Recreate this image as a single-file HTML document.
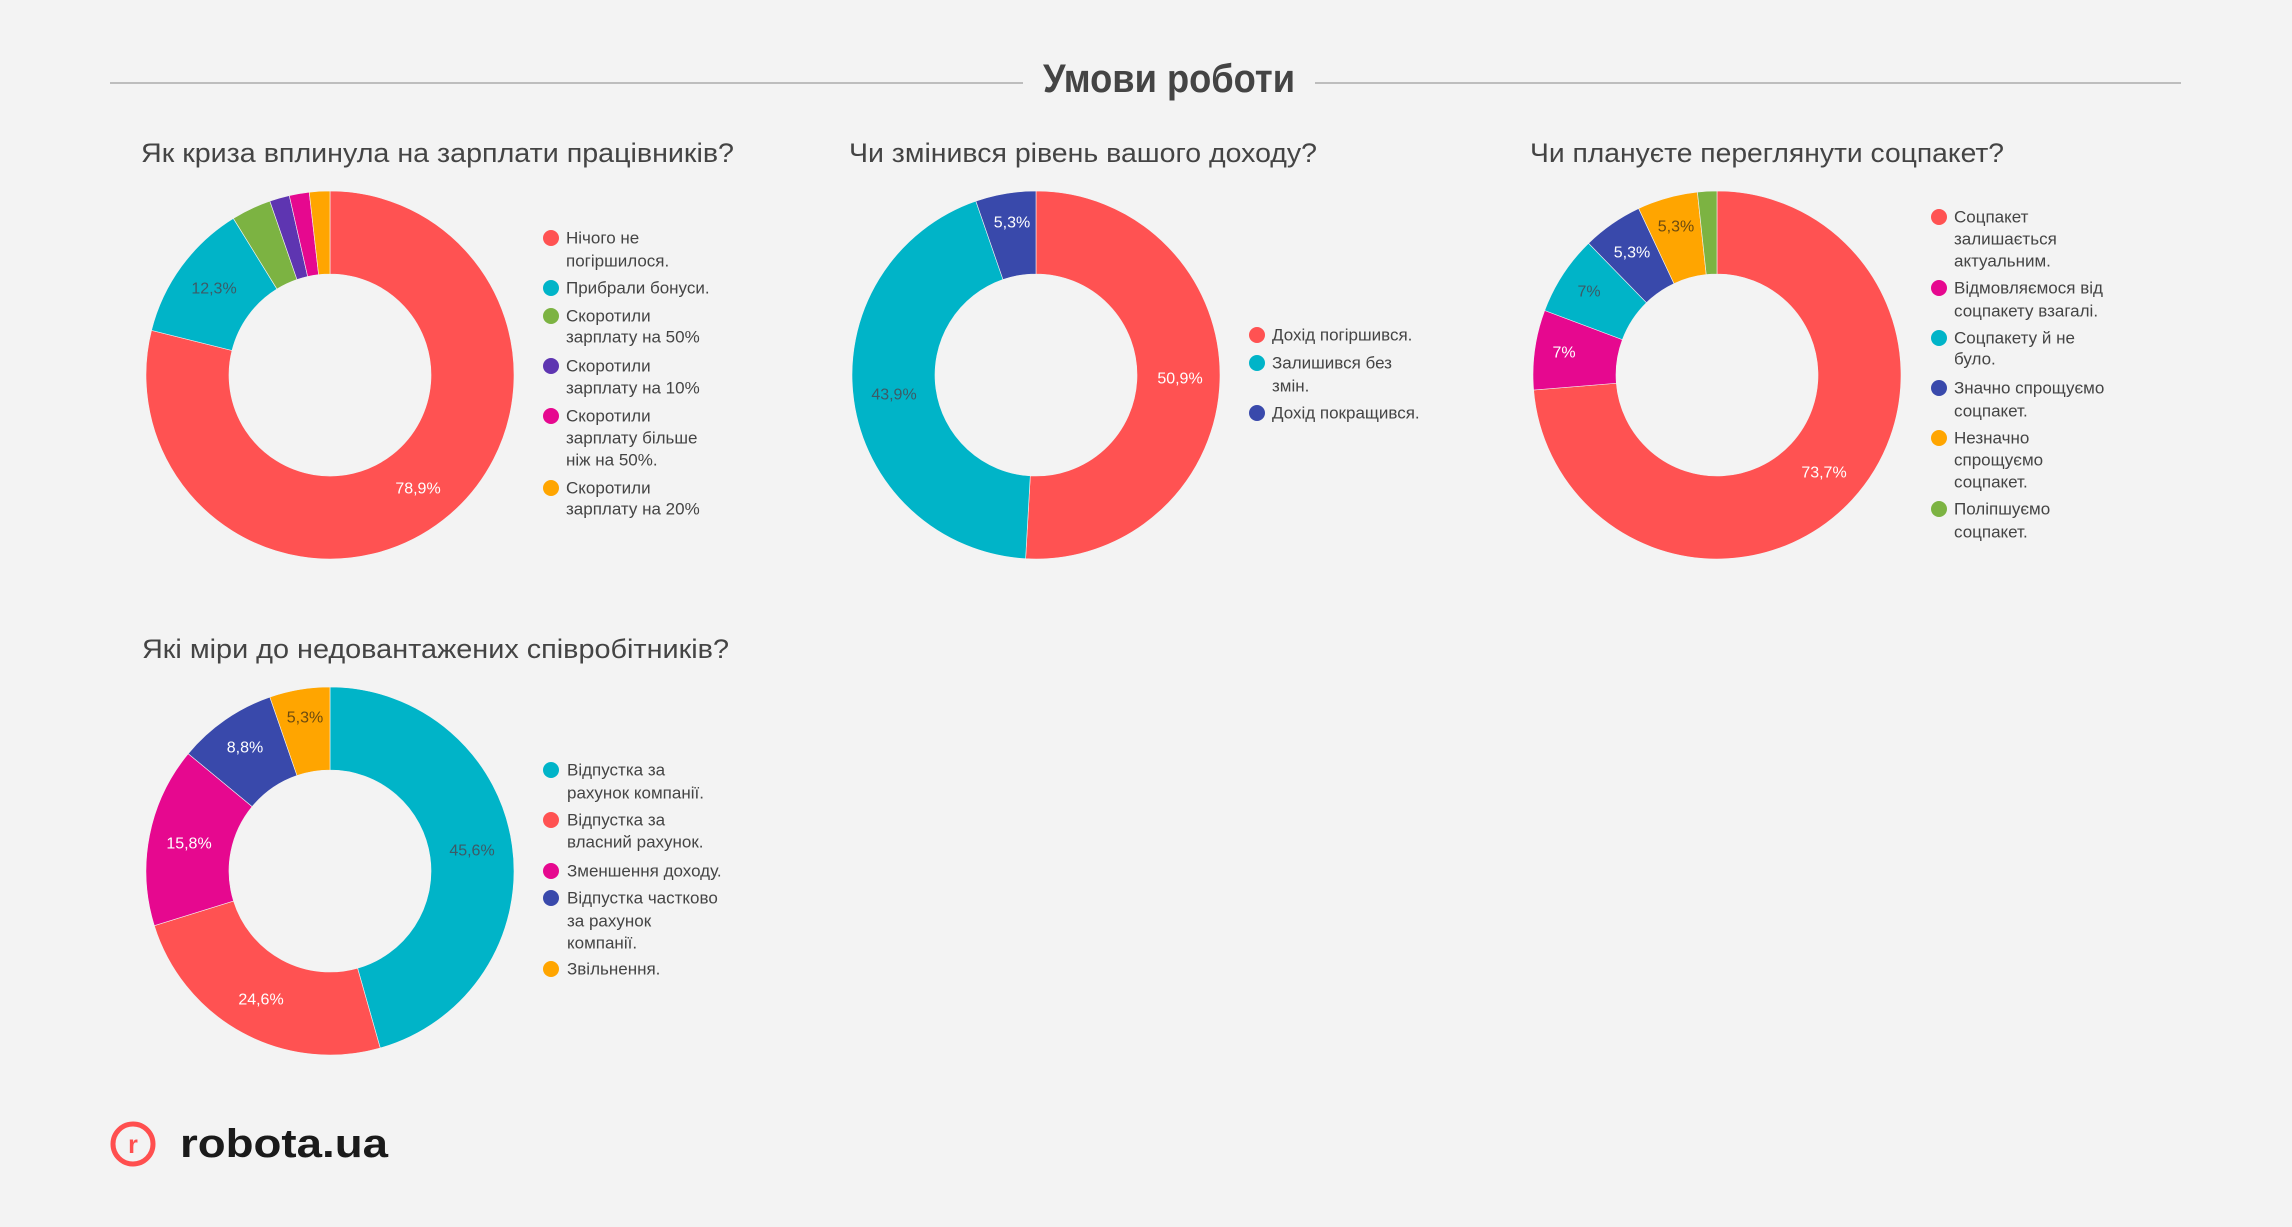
<!DOCTYPE html>
<html><head><meta charset="utf-8"><style>
html,body{margin:0;padding:0;background:#f3f3f3;}
svg{display:block;font-family:"Liberation Sans","DejaVu Sans",sans-serif;}
.t{font-size:27px;fill:#444;}
.l{font-size:17px;fill:#444;dominant-baseline:central;}
.p{font-size:16px;text-anchor:middle;dominant-baseline:central;}
</style></head><body>
<svg id="s" width="2292" height="1227" viewBox="0 0 2292 1227" xmlns="http://www.w3.org/2000/svg">
<rect width="2292" height="1227" fill="#f3f3f3"/>
<line x1="110" y1="83" x2="1023" y2="83" stroke="#bdbdbd" stroke-width="2"/>
<line x1="1315" y1="83" x2="2181" y2="83" stroke="#bdbdbd" stroke-width="2"/>
<text x="1043" y="92" font-size="40" font-weight="bold" fill="#444" textLength="252" lengthAdjust="spacingAndGlyphs">Умови роботи</text>

<text class="t" x="141" y="162" textLength="593" lengthAdjust="spacingAndGlyphs">Як криза вплинула на зарплати працівників?</text>
<text class="t" x="849" y="162" textLength="468" lengthAdjust="spacingAndGlyphs">Чи змінився рівень вашого доходу?</text>
<text class="t" x="1530" y="162" textLength="474" lengthAdjust="spacingAndGlyphs">Чи плануєте переглянути соцпакет?</text>
<text class="t" x="142" y="658" textLength="587" lengthAdjust="spacingAndGlyphs">Які міри до недовантажених співробітників?</text>

<g id="arcs"></g>

<!-- percent labels -->
<text class="p" x="418" y="489" fill="#fff">78,9%</text>
<text class="p" x="214" y="289" fill="#3d5a66">12,3%</text>
<text class="p" x="1180" y="379" fill="#fff">50,9%</text>
<text class="p" x="894" y="395" fill="#3d5a66">43,9%</text>
<text class="p" x="1012" y="223" fill="#fff">5,3%</text>
<text class="p" x="1824" y="473" fill="#fff">73,7%</text>
<text class="p" x="1564" y="353" fill="#fff">7%</text>
<text class="p" x="1589" y="292" fill="#3d5a66">7%</text>
<text class="p" x="1632" y="253" fill="#fff">5,3%</text>
<text class="p" x="1676" y="227" fill="#6b4a10">5,3%</text>
<text class="p" x="472" y="851" fill="#3d5a66">45,6%</text>
<text class="p" x="261" y="1000" fill="#fff">24,6%</text>
<text class="p" x="189" y="844" fill="#fff">15,8%</text>
<text class="p" x="245" y="748" fill="#fff">8,8%</text>
<text class="p" x="305" y="718" fill="#6b4a10">5,3%</text>

<!-- legend 1 -->
<circle cx="551" cy="238" r="8" fill="#ff5252"/>
<text class="l" x="566" y="238">Нічого не</text><text class="l" x="566" y="261">погіршилося.</text>
<circle cx="551" cy="288" r="8" fill="#00b4c8"/>
<text class="l" x="566" y="288">Прибрали бонуси.</text>
<circle cx="551" cy="316" r="8" fill="#7cb342"/>
<text class="l" x="566" y="316">Скоротили</text><text class="l" x="566" y="337">зарплату на 50%</text>
<circle cx="551" cy="366" r="8" fill="#5e35b1"/>
<text class="l" x="566" y="366">Скоротили</text><text class="l" x="566" y="388">зарплату на 10%</text>
<circle cx="551" cy="416" r="8" fill="#e6088f"/>
<text class="l" x="566" y="416">Скоротили</text><text class="l" x="566" y="438">зарплату більше</text><text class="l" x="566" y="460">ніж на 50%.</text>
<circle cx="551" cy="488" r="8" fill="#ffa500"/>
<text class="l" x="566" y="488">Скоротили</text><text class="l" x="566" y="509">зарплату на 20%</text>

<!-- legend 2 -->
<circle cx="1257" cy="335" r="8" fill="#ff5252"/>
<text class="l" x="1272" y="335">Дохід погіршився.</text>
<circle cx="1257" cy="363" r="8" fill="#00b4c8"/>
<text class="l" x="1272" y="363">Залишився без</text><text class="l" x="1272" y="386">змін.</text>
<circle cx="1257" cy="413" r="8" fill="#3949ab"/>
<text class="l" x="1272" y="413">Дохід покращився.</text>

<!-- legend 3 -->
<circle cx="1939" cy="217" r="8" fill="#ff5252"/>
<text class="l" x="1954" y="217">Соцпакет</text><text class="l" x="1954" y="239">залишається</text><text class="l" x="1954" y="261">актуальним.</text>
<circle cx="1939" cy="288" r="8" fill="#e6088f"/>
<text class="l" x="1954" y="288">Відмовляємося від</text><text class="l" x="1954" y="311">соцпакету взагалі.</text>
<circle cx="1939" cy="338" r="8" fill="#00b4c8"/>
<text class="l" x="1954" y="338">Соцпакету й не</text><text class="l" x="1954" y="359">було.</text>
<circle cx="1939" cy="388" r="8" fill="#3949ab"/>
<text class="l" x="1954" y="388">Значно спрощуємо</text><text class="l" x="1954" y="411">соцпакет.</text>
<circle cx="1939" cy="438" r="8" fill="#ffa500"/>
<text class="l" x="1954" y="438">Незначно</text><text class="l" x="1954" y="460">спрощуємо</text><text class="l" x="1954" y="482">соцпакет.</text>
<circle cx="1939" cy="509" r="8" fill="#7cb342"/>
<text class="l" x="1954" y="509">Поліпшуємо</text><text class="l" x="1954" y="532">соцпакет.</text>

<!-- legend 4 -->
<circle cx="551" cy="770" r="8" fill="#00b4c8"/>
<text class="l" x="567" y="770">Відпустка за</text><text class="l" x="567" y="793">рахунок компанії.</text>
<circle cx="551" cy="820" r="8" fill="#ff5252"/>
<text class="l" x="567" y="820">Відпустка за</text><text class="l" x="567" y="842">власний рахунок.</text>
<circle cx="551" cy="871" r="8" fill="#e6088f"/>
<text class="l" x="567" y="871">Зменшення доходу.</text>
<circle cx="551" cy="898" r="8" fill="#3949ab"/>
<text class="l" x="567" y="898">Відпустка частково</text><text class="l" x="567" y="921">за рахунок</text><text class="l" x="567" y="943">компанії.</text>
<circle cx="551" cy="969" r="8" fill="#ffa500"/>
<text class="l" x="567" y="969">Звільнення.</text>

<!-- logo -->
<circle cx="133" cy="1144" r="20" fill="none" stroke="#ff4f4f" stroke-width="5"/>
<text x="133" y="1153" font-size="25" font-weight="bold" fill="#ff4f4f" text-anchor="middle">r</text>
<text x="180" y="1157" font-size="40" font-weight="bold" fill="#1a1a1a" textLength="208" lengthAdjust="spacingAndGlyphs">robota.ua</text>
</svg>
<script>
(function(){
var R='#ff5252',C='#00b4c8',G='#7cb342',P='#5e35b1',K='#e6088f',O='#ffa500',B='#3949ab';
var charts=[
 [330,375,[[78.9,R],[12.3,C],[3.5,G],[1.75,P],[1.75,K],[1.8,O]]],
 [1036,375,[[50.9,R],[43.8,C],[5.3,B]]],
 [1717,375,[[73.7,R],[7,K],[7,C],[5.3,B],[5.3,O],[1.7,G]]],
 [330,871,[[45.6,C],[24.6,R],[15.8,K],[8.7,B],[5.3,O]]]
];
var g=document.getElementById('arcs'),ns='http://www.w3.org/2000/svg';
var ro=184,ri=101;
charts.forEach(function(c){
 var cx=c[0],cy=c[1],tot=0;c[2].forEach(function(s){tot+=s[0];});
 var a=0;
 c[2].forEach(function(s){
  var a0=a/tot*2*Math.PI,a1=(a+s[0])/tot*2*Math.PI;a+=s[0];
  function pt(r,t){return [cx+r*Math.sin(t),cy-r*Math.cos(t)];}
  var lg=(a1-a0)>Math.PI?1:0;
  var p1=pt(ro,a0),p2=pt(ro,a1),p3=pt(ri,a1),p4=pt(ri,a0);
  var d='M'+p1+' A'+ro+','+ro+' 0 '+lg+' 1 '+p2+' L'+p3+' A'+ri+','+ri+' 0 '+lg+' 0 '+p4+' Z';
  var e=document.createElementNS(ns,'path');e.setAttribute('d',d);e.setAttribute('fill',s[1]);
  e.setAttribute('stroke','#f3f3f3');e.setAttribute('stroke-width','0.6');
  g.appendChild(e);
 });
});
})();
</script>
</body></html>
